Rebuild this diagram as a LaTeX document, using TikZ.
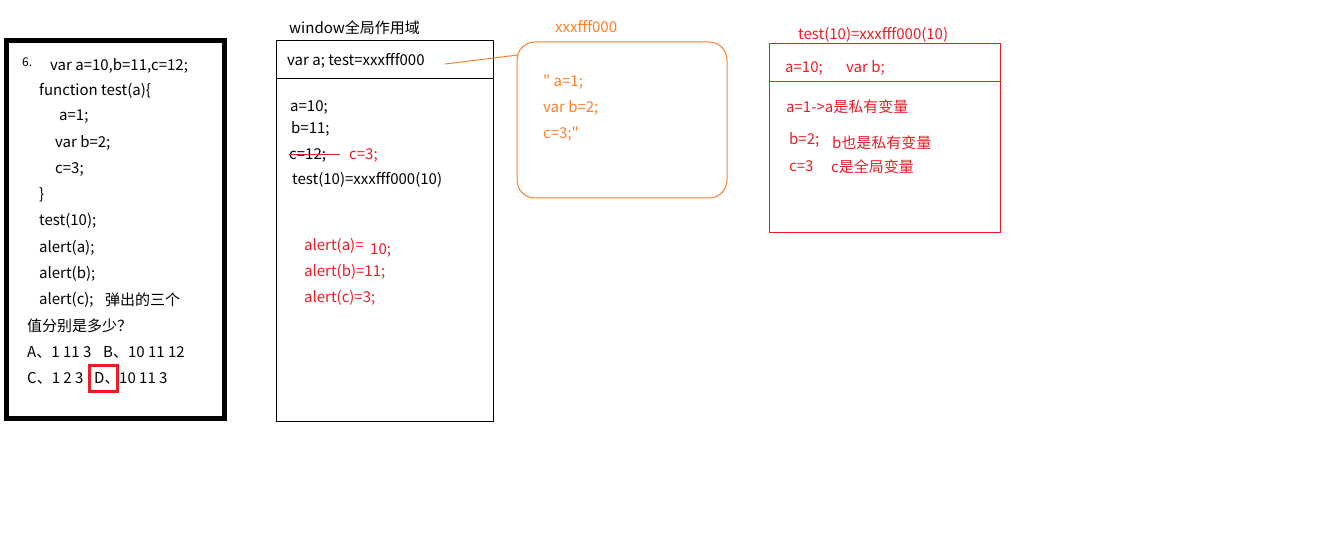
\documentclass[tikz,border=0pt]{standalone}
\usepackage{fontspec}
\setmainfont{Noto Sans CJK SC}[Ligatures=TeXOff]
\definecolor{pred}{HTML}{ED1C24}
\definecolor{porange}{HTML}{FF7F27}
\tikzset{
  txt/.style={anchor=west, inner sep=0pt, font=\fontsize{15}{16}\selectfont},
  rtxt/.style={txt, text=pred},
  otxt/.style={txt, text=porange},
  frame/.style={anchor=north west, inner sep=0pt, outer sep=0pt},
}
\begin{document}
\begin{tikzpicture}[x=1pt,y=-1pt]
\useasboundingbox (0,0) rectangle (1325,545);
% left box
\node[frame, draw, line width=5pt, minimum width=218pt, minimum height=377.5pt] (qbox) at (6.5,40.5) {};
\node[txt, font=\fontsize{12}{13}\selectfont] (n6) at (22,62) {6.};
\node[txt] (q1) at (50,66) {var a=10,b=11,c=12;};
\node[txt] (q2) at (39,91) {function test(a)\{};
\node[txt] (q3) at (59,117) {a=1;};
\node[txt] (q4) at (55,143) {var b=2;};
\node[txt] (q5) at (55,169) {c=3;};
\node[txt] (q6) at (39,195) {\}};
\node[txt] (q7) at (39,221) {test(10);};
\node[txt] (q8) at (39,248) {alert(a);};
\node[txt] (q9) at (39,274) {alert(b);};
\node[txt] (q10) at (39,300) {alert(c);};
\node[txt] (q10b) at (105,300) {弹出的三个};
\node[txt] (q11) at (27,326) {值分别是多少？};
\node[txt] (q12) at (27,352) {A、1 11 3};
\node[txt] (q12b) at (103,352) {B、10 11 12};
\node[txt] (q13) at (27,378) {C、1 2 3};
\node[txt] (q14) at (94,378) {D、};
\node[txt] (q15) at (119,378) {10 11 3};
\node[frame, draw=pred, line width=3pt, minimum width=28pt, minimum height=26pt] (dbox) at (89.5,365.5) {};
% middle box
\node[frame, draw, line width=1pt, minimum width=217pt, minimum height=380pt] (wbox) at (276,41) {};
\draw[line width=1pt] (276,79) coordinate (wdl) -- (493,79) coordinate (wdr);
\node[txt] (wtitle) at (289,28) {window全局作用域};
\node[txt] (w0) at (287,61) {var a; test=xxxfff000};
\node[txt] (w1) at (290,107) {a=10;};
\node[txt] (w2) at (291,129) {b=11;};
\node[txt] (w3) at (289,155) {c=12;};
\draw[pred, line width=1pt] (289,155) coordinate (s1) -- (340,155) coordinate (s2);
\node[rtxt] (w3b) at (349,155) {c=3;};
\node[txt] (w4) at (292,180) {test(10)=xxxfff000(10)};
\node[rtxt] (w5) at (304,246) {alert(a)=};
\node[rtxt] (w5b) at (370,250) {10;};
\node[rtxt] (w6) at (304,272) {alert(b)=11;};
\node[rtxt] (w7) at (304,298) {alert(c)=3;};
% orange function box
\node[frame, draw=porange, line width=1pt, rounded corners=18pt, minimum width=210pt, minimum height=156pt] (fbox) at (517,42) {};
\node[otxt] (ftitle) at (555,27) {xxxfff000};
\node[otxt] (f1) at (543,82) {" a=1;};
\node[otxt] (f2) at (543,108) {var b=2;};
\node[otxt] (f3) at (543,134) {c=3;"};
\coordinate (lstart) at (445,64);
\coordinate (lend) at (518,55);
\draw[porange, line width=1pt] (lstart) -- (lend);
% right box
\node[frame, draw=pred, line width=1pt, minimum width=231pt, minimum height=189pt] (tbox) at (769,44) {};
\draw[pred, line width=1pt] (769,82) coordinate (tdl) -- (1000,82) coordinate (tdr);
\node[rtxt] (ttitle) at (798,35) {test(10)=xxxfff000(10)};
\node[rtxt] (t1) at (785,68) {a=10;};
\node[rtxt] (t1b) at (846,68) {var b;};
\node[rtxt] (t2) at (786,107) {a=1->a是私有变量};
\node[rtxt] (t3) at (789,140) {b=2;};
\node[rtxt] (t3b) at (832,143) {b也是私有变量};
\node[rtxt] (t4) at (789,166) {c=3};
\node[rtxt] (t4b) at (831,167) {c是全局变量};
\end{tikzpicture}
\end{document}
